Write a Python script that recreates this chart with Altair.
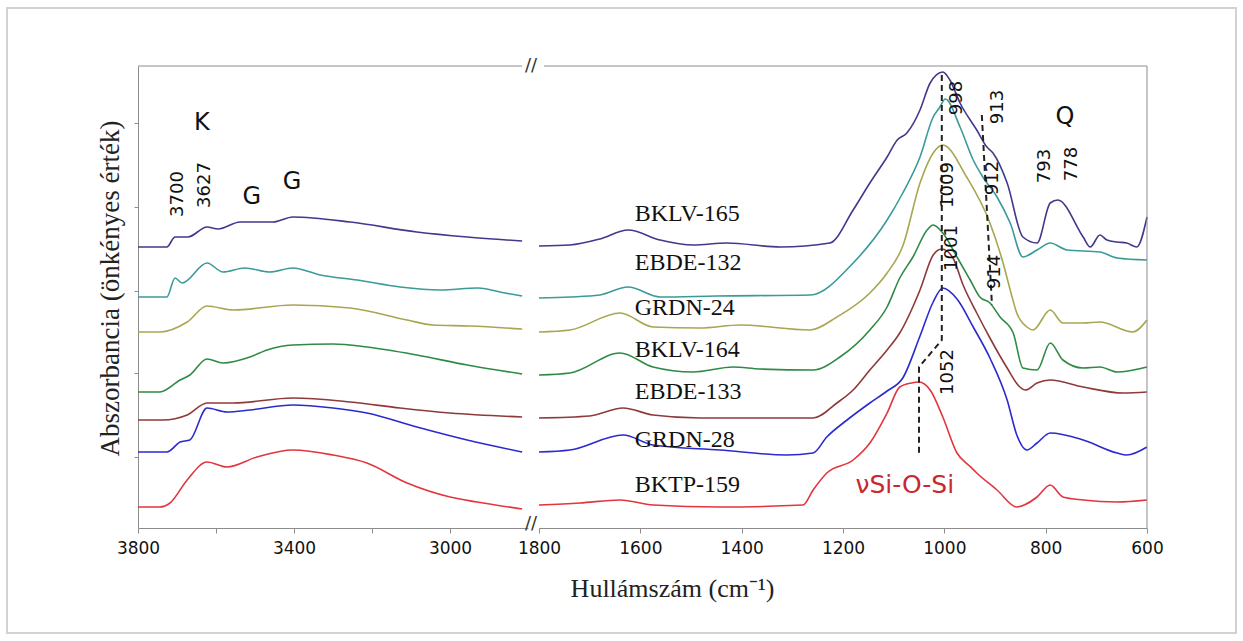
import altair as alt
import pandas as pd

SERIES = ["BKLV-165", "EBDE-132", "GRDN-24", "BKLV-164", "EBDE-133", "GRDN-28", "BKTP-159"]
COLORS = ["#40398c", "#3a9b98", "#a8a650", "#2f8a45", "#8e3a3a", "#2a2ad0", "#e2353d"]

# wavenumber (cm-1), absorbance (arbitrary units) -- high wavenumber part
BKLV165_L = [(3800, 281), (3726, 281), (3705, 291), (3672, 291), (3623, 301), (3595, 299), (3538, 306),
             (3454, 306), (3403, 311), (3256, 306), (3085, 296), (2956, 291), (2815, 287)]
EBDE132_L = [(3800, 231), (3726, 231), (3705, 250), (3687, 245), (3623, 265), (3582, 256), (3526, 260),
             (3462, 256), (3403, 260), (3333, 253), (3238, 248), (3128, 241), (3026, 238), (2928, 240),
             (2859, 235), (2815, 232)]
GRDN24_L = [(3800, 196), (3744, 196), (3674, 206), (3623, 222), (3556, 218), (3403, 223), (3256, 220),
            (3110, 208), (3044, 203), (2949, 202), (2815, 199)]
BKLV164_L = [(3800, 136), (3744, 136), (3692, 148), (3667, 153), (3623, 169), (3582, 165), (3513, 171),
             (3469, 178), (3403, 183), (3300, 184), (3213, 181), (3085, 173), (2956, 163), (2815, 154)]
EBDE133_L = [(3800, 108), (3736, 108), (3674, 113), (3623, 125), (3556, 125), (3403, 130), (3256, 126),
             (3128, 120), (3000, 115), (2815, 111)]
GRDN28_L = [(3800, 76), (3726, 76), (3692, 86), (3667, 88), (3623, 120), (3572, 116), (3513, 118),
            (3403, 123), (3300, 120), (3213, 115), (3085, 101), (2956, 88), (2815, 76)]
BKTP159_L = [(3800, 21), (3744, 21), (3718, 25), (3674, 48), (3623, 66), (3572, 61), (3495, 71),
             (3403, 78), (3300, 73), (3213, 65), (3110, 45), (3000, 31), (2931, 26), (2815, 19)]

# low wavenumber part
BKLV165_R = [(1800, 282), (1739, 283), (1680, 289), (1624, 298), (1561, 288), (1496, 283), (1429, 285),
             (1324, 281), (1226, 285), (1180, 318), (1147, 345), (1113, 371), (1093, 388), (1074, 395),
             (1048, 418), (1028, 445), (1003, 456), (989, 448), (969, 425), (936, 398), (916, 381),
             (904, 375), (876, 345), (845, 291), (817, 285), (791, 325), (776, 328), (726, 291),
             (712, 281), (693, 293), (679, 288), (659, 286), (640, 285), (620, 281), (600, 311)]
EBDE132_R = [(1800, 230), (1739, 231), (1680, 233), (1624, 241), (1561, 231), (1450, 232), (1265, 233),
             (1180, 265), (1113, 308), (1082, 335), (1048, 371), (1022, 411), (1010, 420), (998, 429),
             (969, 401), (943, 368), (924, 351), (896, 331), (870, 305), (845, 271), (817, 278),
             (791, 285), (758, 278), (693, 276), (659, 270), (600, 268)]
GRDN24_R = [(1800, 196), (1739, 198), (1640, 215), (1575, 201), (1482, 200), (1403, 203), (1265, 198),
            (1212, 211), (1147, 235), (1113, 255), (1082, 282), (1048, 345), (1022, 375), (1003, 383),
            (956, 351), (910, 305), (884, 265), (870, 238), (857, 215), (837, 201), (825, 198),
            (791, 218), (766, 205), (726, 205), (693, 206), (628, 196), (600, 208)]
BKLV164_R = [(1800, 153), (1739, 155), (1640, 175), (1575, 161), (1496, 156), (1417, 161), (1364, 159),
             (1259, 158), (1206, 171), (1147, 198), (1113, 221), (1088, 250), (1062, 271), (1034, 298),
             (1022, 303), (1003, 295), (975, 271), (949, 248), (930, 231), (910, 225), (890, 211),
             (864, 195), (845, 160), (817, 158), (791, 185), (766, 168), (726, 160), (693, 161),
             (659, 156), (600, 161)]
EBDE133_R = [(1800, 110), (1700, 112), (1634, 120), (1575, 113), (1482, 110), (1259, 110), (1212, 125),
             (1180, 138), (1147, 158), (1113, 178), (1088, 195), (1048, 238), (1022, 273), (1005, 279),
             (983, 270), (963, 243), (936, 215), (910, 190), (876, 160), (851, 141), (840, 138),
             (817, 145), (791, 148), (726, 141), (647, 135), (600, 136)]
GRDN28_R = [(1800, 76), (1739, 78), (1634, 93), (1575, 83), (1443, 78), (1311, 73), (1259, 75),
            (1232, 91), (1192, 108), (1147, 125), (1113, 137), (1082, 150), (1048, 192), (1022, 226),
            (1003, 240), (975, 229), (943, 201), (910, 170), (876, 128), (857, 93), (837, 78),
            (817, 85), (791, 95), (726, 88), (659, 75), (640, 73), (600, 81)]
BKTP159_R = [(1800, 23), (1719, 25), (1640, 28), (1575, 23), (1443, 21), (1279, 23), (1259, 38),
             (1232, 55), (1180, 68), (1147, 85), (1113, 115), (1088, 141), (1065, 145), (1050, 146),
             (1028, 138), (1003, 111), (975, 75), (950, 62), (936, 55), (896, 38), (857, 21),
             (817, 31), (791, 43), (766, 31), (726, 28), (659, 26), (600, 28)]

LEFT = [BKLV165_L, EBDE132_L, GRDN24_L, BKLV164_L, EBDE133_L, GRDN28_L, BKTP159_L]
RIGHT = [BKLV165_R, EBDE132_R, GRDN24_R, BKLV164_R, EBDE133_R, GRDN28_R, BKTP159_R]

# sample labels (placed in the low-wavenumber panel)
LABEL_W = 1611
LABEL_V = [314, 265, 220, 178, 136, 88, 43]

# peak annotations
PEAK_TEXT_R = ["998", "913", "1009", "912", "1001", "914", "1052", "793", "778"]
PEAK_W_R = [975, 894, 993, 904, 985, 900, 993, 801, 748]
PEAK_V_R = [430, 421, 343, 350, 280, 256, 156, 362, 364]
PEAK_TEXT_L = ["3700", "3627"]
PEAK_W_L = [3697, 3628]
PEAK_V_L = [334, 343]
LETTER_TEXT_L = ["K", "G", "G"]
LETTER_W_L = [3636, 3508, 3405]
LETTER_V_L = [405, 331, 346]
LETTER_TEXT_R = ["Q"]
LETTER_W_R = [762]
LETTER_V_R = [411]
BAND_TEXT = "νSi-O-Si"
BAND_W, BAND_V = 1078, 43

# dashed guide lines
DASH_A = [(1005, 453), (1005, 188), (1050, 161), (1050, 75)]
DASH_B = [(926, 413), (906, 223)]

Y_TICKS = [71, 155, 237, 321, 405]
Y_MAX = 462

SANS = "DejaVu Sans"
SERIF = "Liberation Serif"
AXIS_GRAY = "#8c8c8c"


def frame(lists):
    rows = []
    for name, pts in zip(SERIES, lists):
        for i, (w, v) in enumerate(pts):
            rows.append({"w": w, "v": v, "series": name, "idx": i})
    return pd.DataFrame(rows)


dfL = frame(LEFT)
dfR = frame(RIGHT)

xsL = alt.Scale(domain=[2800, 3800], reverse=True, nice=False, zero=False)
xsR = alt.Scale(domain=[600, 1800], reverse=True, nice=False, zero=False)
ys = alt.Scale(domain=[0, Y_MAX], nice=False, zero=False)
col = alt.Color("series:N", scale=alt.Scale(domain=SERIES, range=COLORS), legend=None)

WL, WR, H = 390, 608, 462

axXL = alt.Axis(
    values=[3800, 3600, 3400, 3200, 3000], format="d",
    labelExpr="(datum.value == 3600 || datum.value == 3200) ? '' : datum.label",
    tickSize=5, grid=False, domainColor=AXIS_GRAY, tickColor=AXIS_GRAY, labelFlush=False,
    labelFont=SANS, labelFontSize=17, labelColor="#111", labelPadding=7, title=None)
axY = alt.Axis(
    values=Y_TICKS, labels=False, tickSize=4, grid=False,
    domainColor=AXIS_GRAY, tickColor=AXIS_GRAY,
    title="Abszorbancia (önkényes érték)", titleFont=SERIF, titleFontSize=27,
    titleFontWeight="normal", titleColor="#222", titleAngle=270,
    titleX=-28, titleY=222, titleBaseline="middle", titleAlign="center")
axXR = alt.Axis(
    values=[1800, 1600, 1400, 1200, 1000, 800, 600], format="d",
    tickSize=5, grid=False, domainColor=AXIS_GRAY, tickColor=AXIS_GRAY, labelFlush=False,
    labelFont=SANS, labelFontSize=17, labelColor="#111", labelPadding=7,
    title="Hullámszám (cm⁻¹)", titleFont=SERIF, titleFontSize=26, titleFontWeight="normal",
    titleColor="#222", titleX=133, titleY=60, titleBaseline="middle", titleAlign="center")


def XL(f="w"):
    return alt.X(f"{f}:Q", scale=xsL, axis=axXL)


def YL(f="v"):
    return alt.Y(f"{f}:Q", scale=ys, axis=axY)


def XR(f="w"):
    return alt.X(f"{f}:Q", scale=xsR, axis=axXR)


def YR(f="v"):
    return alt.Y(f"{f}:Q", scale=ys, axis=None)


# ---------- left panel ----------
lines_L = alt.Chart(dfL).mark_line(strokeWidth=1.6, interpolate="monotone").encode(
    x=XL(), y=YL(), color=col, order="idx:Q")

topL = pd.DataFrame({"x": [3800], "x2": [2815], "y": [Y_MAX]})
top_rule_L = alt.Chart(topL).mark_rule(color=AXIS_GRAY, strokeWidth=1).encode(
    x=XL("x"), x2="x2:Q", y=YL("y"))

brk = pd.DataFrame({"w": [2792, 2792], "v": [Y_MAX, 4], "t": ["//", "//"]})
breaks = alt.Chart(brk).mark_text(font=SANS, fontSize=18, color="#333", baseline="middle").encode(
    x=XL(), y=YL(), text="t:N")

pkL = pd.DataFrame({"w": PEAK_W_L, "v": PEAK_V_L, "t": PEAK_TEXT_L})
peaks_L = alt.Chart(pkL).mark_text(font=SANS, fontSize=18, angle=270, color="#111",
                                   baseline="middle", align="center").encode(
    x=XL(), y=YL(), text="t:N")

ltL = pd.DataFrame({"w": LETTER_W_L, "v": LETTER_V_L, "t": LETTER_TEXT_L})
letters_L = alt.Chart(ltL).mark_text(font=SANS, fontSize=24, color="#111",
                                     baseline="middle", align="center").encode(
    x=XL(), y=YL(), text="t:N")

# light outer picture frame (decoration around the whole figure)
outer = alt.Chart(pd.DataFrame({"k": [0]})).mark_rect(
    fillOpacity=0, stroke="#d2d2d2", strokeWidth=2).encode(
    x=alt.value(-131), x2=alt.value(1098), y=alt.value(-58), y2=alt.value(567))

left = alt.layer(outer, lines_L, top_rule_L, breaks, peaks_L, letters_L).properties(width=WL, height=H)

# ---------- right panel ----------
lines_R = alt.Chart(dfR).mark_line(strokeWidth=1.6, interpolate="monotone").encode(
    x=XR(), y=YR(), color=col, order="idx:Q")

frR = pd.DataFrame({"x": [1790], "x2": [600], "y": [Y_MAX]})
top_rule_R = alt.Chart(frR).mark_rule(color=AXIS_GRAY, strokeWidth=1).encode(
    x=XR("x"), x2="x2:Q", y=YR("y"))
edR = pd.DataFrame({"x": [600], "y": [0], "y2": [Y_MAX]})
right_rule = alt.Chart(edR).mark_rule(color=AXIS_GRAY, strokeWidth=1).encode(
    x=XR("x"), y=YR("y"), y2="y2:Q")


def dash_df(pts):
    return pd.DataFrame({"w": [p[0] for p in pts], "v": [p[1] for p in pts], "idx": list(range(len(pts)))})


dash_layers = [
    alt.Chart(dash_df(p)).mark_line(color="#222", strokeWidth=2, strokeDash=[6, 4]).encode(
        x=XR(), y=YR(), order="idx:Q")
    for p in (DASH_A, DASH_B)
]

lab = pd.DataFrame({"w": [LABEL_W] * len(SERIES), "v": LABEL_V, "t": SERIES})
labels = alt.Chart(lab).mark_text(font=SERIF, fontSize=24, color="#111",
                                  align="left", baseline="middle").encode(
    x=XR(), y=YR(), text="t:N")

pkR = pd.DataFrame({"w": PEAK_W_R, "v": PEAK_V_R, "t": PEAK_TEXT_R})
peaks_R = alt.Chart(pkR).mark_text(font=SANS, fontSize=18, angle=270, color="#111",
                                   baseline="middle", align="center").encode(
    x=XR(), y=YR(), text="t:N")

ltR = pd.DataFrame({"w": LETTER_W_R, "v": LETTER_V_R, "t": LETTER_TEXT_R})
letters_R = alt.Chart(ltR).mark_text(font=SANS, fontSize=24, color="#111",
                                     baseline="middle", align="center").encode(
    x=XR(), y=YR(), text="t:N")

band = alt.Chart(pd.DataFrame({"w": [BAND_W], "v": [BAND_V], "t": [BAND_TEXT]})).mark_text(
    font=SANS, fontSize=25, color="#c8282e", align="center", baseline="middle").encode(
    x=XR(), y=YR(), text="t:N")

right = alt.layer(lines_R, top_rule_R, right_rule, *dash_layers, labels, peaks_R, letters_R, band).properties(
    width=WR, height=H)

chart = alt.hconcat(left, right, spacing=11, bounds="flush").properties(
    padding={"left": 6, "top": 7, "right": 5, "bottom": 5},
    background="white",
).configure_view(stroke=None)

chart.save("out.html", embed_options={"renderer": "svg", "actions": False})
